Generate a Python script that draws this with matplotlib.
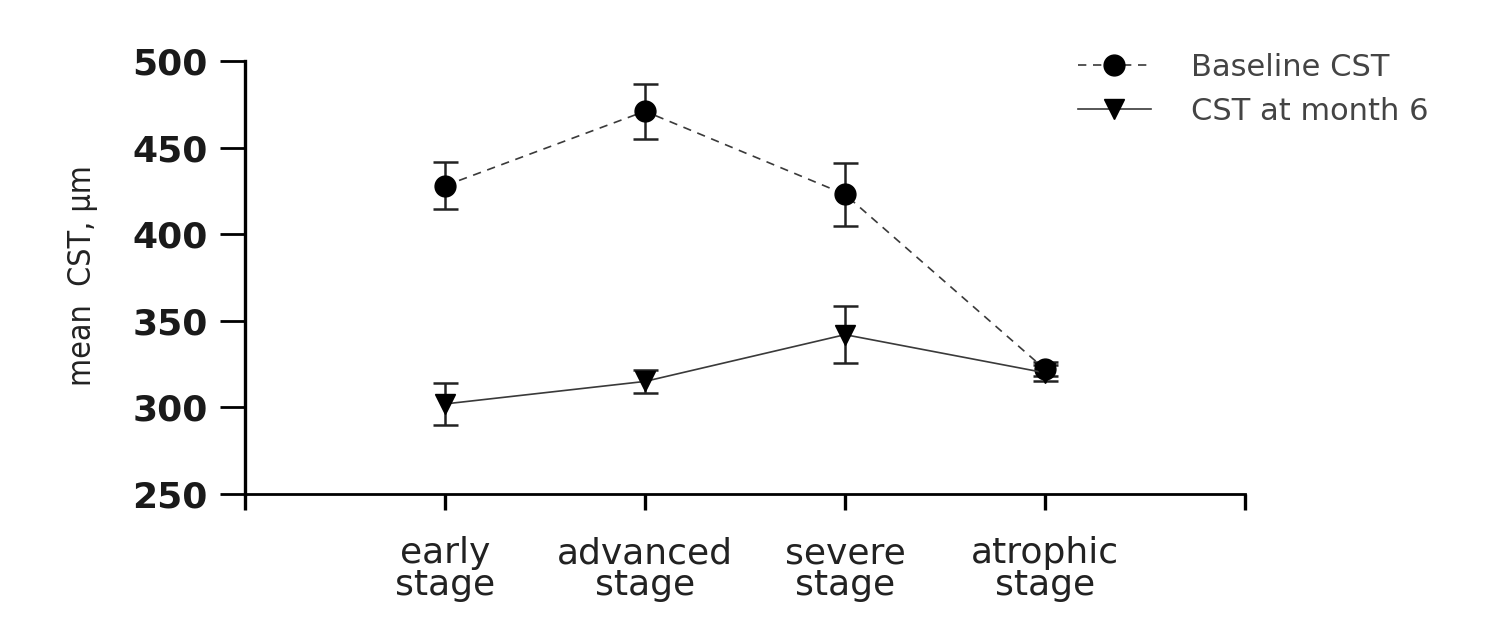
import numpy as np
import matplotlib
matplotlib.use('Agg')
import matplotlib.pyplot as plt

# CST by stage
stages = ['early\nstage', 'advanced\nstage', 'severe\nstage', 'atrophic\nstage']
baseline = [428, 471, 423, 322]
baseline_err = [13.7, 16, 18, 4]
month6 = [302, 315, 342, 320]
month6_err = [12.3, 6.5, 16.5, 4.5]

x = np.arange(1, len(stages) + 1)

fig = plt.figure(figsize=(14.89, 6.33), dpi=100)
ax = fig.add_axes([245/1489, 1 - 494/633, 1000/1489, 433/633])

line_col = '#3a3a3a'
ax.errorbar(x, baseline, yerr=baseline_err, color=line_col, lw=1.2, dashes=(5, 4),
            marker='o', ms=15, mfc='black', mec='black',
            ecolor='#222222', elinewidth=1.8, capsize=9, capthick=1.8,
            label='Baseline CST')
ax.errorbar(x, month6, yerr=month6_err, color=line_col, lw=1.2,
            marker='v', ms=15, mfc='black', mec='black',
            ecolor='#222222', elinewidth=1.8, capsize=9, capthick=1.8,
            label='CST at month 6')

ax.set_xlim(0, 5)
ax.set_ylim(250, 500)
ax.set_yticks([250, 300, 350, 400, 450, 500])
ax.set_xticks(range(0, 6))
ax.set_xticklabels([''] + stages + [''], fontsize=26, color='#222222', linespacing=0.9)
for t in ax.get_yticklabels():
    t.set_fontsize(26)
    t.set_fontweight('bold')
    t.set_color('#1a1a1a')

for side in ['top', 'right']:
    ax.spines[side].set_visible(False)
ax.spines['left'].set_linewidth(2.4)
ax.spines['bottom'].set_linewidth(2)
ax.tick_params(axis='y', length=18, width=2, pad=9)
ax.tick_params(axis='x', length=11.5, width=2.4, pad=19)

ax.set_ylabel('mean  CST, μm', fontsize=23, family='DejaVu Sans', fontstretch='condensed',
              color='#222222')
ax.yaxis.set_label_coords(-0.147, 0.505)

handles, labels = ax.get_legend_handles_labels()
handles = [h[0] for h in handles]
fig.legend(handles, labels, loc='upper left', bbox_to_anchor=(1050/1489, 1 - 25/633),
           frameon=False, fontsize=22, handlelength=2.4, handletextpad=1.3,
           labelspacing=0.5, labelcolor='#444444')

fig.savefig('out.png', dpi=100)
